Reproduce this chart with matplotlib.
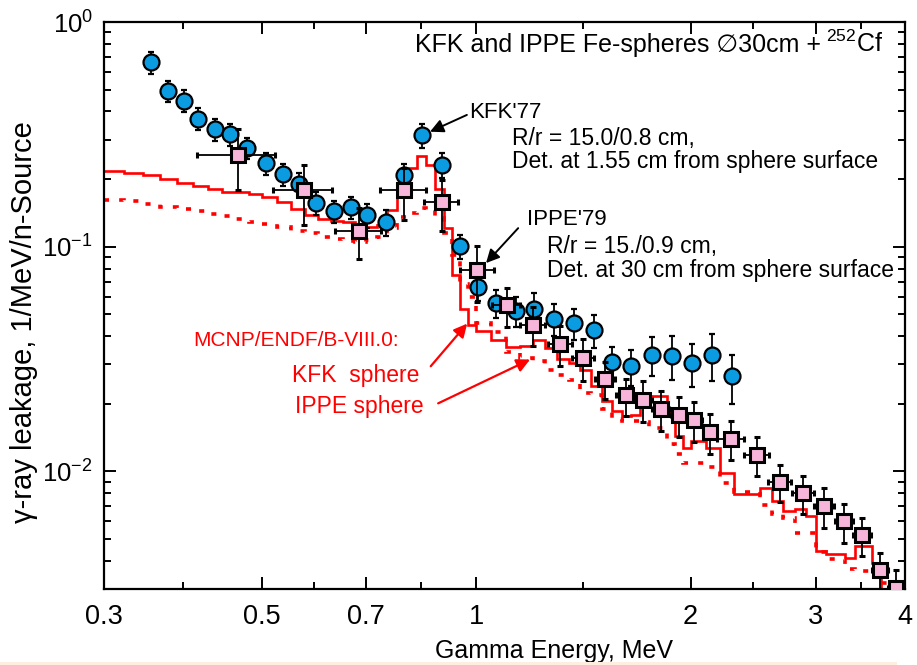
import matplotlib
matplotlib.use("Agg")
import numpy as np
import matplotlib.pyplot as plt
from matplotlib.patches import Rectangle
from matplotlib.ticker import FixedLocator, FixedFormatter, LogLocator, NullFormatter

# KFK'77 measurement (blue circles)
kfk_energy = [0.349, 0.369, 0.388, 0.406, 0.429, 0.451, 0.476, 0.506, 0.535, 0.563,
              0.596, 0.631, 0.666, 0.703, 0.747, 0.791, 0.839, 0.894, 0.949, 1.004,
              1.066, 1.136, 1.204, 1.286, 1.371, 1.462, 1.553, 1.651, 1.767, 1.886,
              2.007, 2.145, 2.289]
kfk_flux = [0.664, 0.494, 0.446, 0.372, 0.334, 0.316, 0.275, 0.235, 0.210, 0.191,
            0.157, 0.1435, 0.150, 0.138, 0.129, 0.209, 0.313, 0.232, 0.1003, 0.0662,
            0.0562, 0.0519, 0.0530, 0.0479, 0.0458, 0.0425, 0.0306, 0.0294, 0.0331, 0.0328,
            0.0304, 0.0331, 0.0265]
kfk_err = [0.074, 0.055, 0.050, 0.042, 0.037, 0.035, 0.030, 0.026, 0.024, 0.021,
           0.018, 0.016, 0.017, 0.017, 0.017, 0.025, 0.038, 0.030, 0.012, 0.0086,
           0.0079, 0.0078, 0.0090, 0.0077, 0.0073, 0.0072, 0.0052, 0.0053, 0.0066, 0.0072,
           0.0067, 0.0079, 0.0066]

# IPPE'79 measurement (pink squares)
ippe_energy = [0.463, 0.573, 0.684, 0.791, 0.894, 1.003, 1.103, 1.200, 1.311, 1.413,
               1.516, 1.623, 1.716, 1.817, 1.926, 2.024, 2.13, 2.279, 2.476, 2.67,
               2.879, 3.078, 3.285, 3.484, 3.69, 3.89]
ippe_flux = [0.256, 0.178, 0.118, 0.178, 0.158, 0.079, 0.0548, 0.045, 0.0369, 0.0320,
             0.0258, 0.0218, 0.0209, 0.0190, 0.0179, 0.0169, 0.0150, 0.0140, 0.0119, 0.0090,
             0.0080, 0.0070, 0.0060, 0.0052, 0.00364, 0.00304]
ippe_xerr = [0.058, 0.055, 0.05, 0.058, 0.05, 0.055, 0.05, 0.05, 0.05, 0.05,
             0.05, 0.05, 0.05, 0.05, 0.05, 0.05, 0.05, 0.1, 0.1, 0.1,
             0.1, 0.1, 0.1, 0.1, 0.1, 0.1]
ippe_yerr = [0.077, 0.053, 0.030, 0.046, 0.040, 0.022, 0.011, 0.009, 0.0074, 0.0067,
             0.0048, 0.0041, 0.0043, 0.0039, 0.0036, 0.0034, 0.0030, 0.0028, 0.0024, 0.0017,
             0.0015, 0.0014, 0.0012, 0.0010, 0.0007, 0.0006]

# MCNP/ENDF/B-VIII.0 histograms
mcnp_edges = [0.30, 0.32, 0.34, 0.36, 0.38, 0.40, 0.42, 0.44, 0.46, 0.48,
              0.50, 0.525, 0.55, 0.575, 0.60, 0.625, 0.65, 0.675, 0.70, 0.725,
              0.75, 0.775, 0.80, 0.825, 0.85, 0.875, 0.90, 0.925, 0.95, 0.975,
              1.00, 1.05, 1.10, 1.15, 1.20, 1.25, 1.30, 1.35, 1.40, 1.45,
              1.50, 1.55, 1.60, 1.65, 1.70, 1.75, 1.85, 1.90, 1.95, 2.00,
              2.10, 2.20, 2.30, 2.50, 2.60, 2.70, 2.80, 2.90, 3.00, 3.10,
              3.30, 3.40, 3.60, 3.70, 4.00]
mcnp_kfk = [0.218, 0.213, 0.208, 0.200, 0.193, 0.187, 0.181, 0.176, 0.175,
            0.171, 0.166, 0.158, 0.147, 0.139, 0.133, 0.130, 0.129, 0.1265, 0.122,
            0.125, 0.146, 0.185, 0.224, 0.254, 0.231, 0.180, 0.121, 0.075, 0.053,
            0.045, 0.042, 0.0386, 0.0358, 0.0362, 0.0386, 0.0355, 0.0315, 0.0304, 0.0284,
            0.0239, 0.0205, 0.0185, 0.0176, 0.0179, 0.0199, 0.0216, 0.0185, 0.01435, 0.01274,
            0.01364, 0.01274, 0.00987, 0.0079, 0.00846, 0.00738, 0.00666, 0.00678, 0.00633, 0.00442,
            0.00428, 0.00413, 0.00466, 0.00393, 0.002]
mcnp_ippe = [0.162, 0.159, 0.155, 0.151, 0.147, 0.144, 0.140, 0.137, 0.133,
             0.129, 0.126, 0.122, 0.118, 0.115, 0.111, 0.108, 0.106, 0.1055, 0.1075,
             0.111, 0.121, 0.1355, 0.142, 0.1486, 0.145, 0.1345, 0.115, 0.092, 0.068,
             0.060, 0.046, 0.0416, 0.0340, 0.0320, 0.0310, 0.0283, 0.0270, 0.0256, 0.0224,
             0.0220, 0.0189, 0.0171, 0.0168, 0.0168, 0.0166, 0.0156, 0.0132, 0.0120, 0.0109,
             0.0109, 0.0105, 0.0089, 0.0081, 0.0071, 0.0065, 0.0062, 0.0053, 0.0053, 0.0044,
             0.0041, 0.0037, 0.0036, 0.0034, 0.0032]

x_ticks = [0.3, 0.5, 0.7, 1, 2, 3, 4]
x_tick_labels = ["0.3", "0.5", "0.7", "1", "2", "3", "4"]

plt.rcParams['font.family'] = ['Liberation Sans', 'DejaVu Sans']
plt.rcParams['mathtext.fontset'] = 'custom'
plt.rcParams['mathtext.rm'] = 'Liberation Sans'
plt.rcParams['mathtext.it'] = 'Liberation Sans:italic'
plt.rcParams['mathtext.bf'] = 'Liberation Sans:bold'

fig = plt.figure(figsize=(9.17, 6.65), dpi=100)
ax = fig.add_axes([0.1134, 0.1143, 0.8735, 0.8526])

# simulated spectra
ax.stairs(mcnp_kfk, mcnp_edges, baseline=None, color='#ff0000', lw=1.9, zorder=2)
ax.stairs(mcnp_ippe, mcnp_edges, baseline=None, color='#ff0000', lw=2.6,
          linestyle=(0, (1.4, 2.8)), zorder=2)

# measurements
ax.errorbar(kfk_energy, kfk_flux, yerr=kfk_err, fmt='o', ms=11.5, mfc='#0a9be0',
            mec='k', mew=1.6, ecolor='k', elinewidth=1.3, capsize=2.2, capthick=1.3,
            zorder=4)
ax.errorbar(ippe_energy, ippe_flux, xerr=ippe_xerr, yerr=ippe_yerr, fmt='s', ms=10.5,
            mfc='#f7b5d9', mec='k', mew=2.2, ecolor='k', elinewidth=1.3, capsize=2.2,
            capthick=1.3, zorder=5)

ax.set_xscale('log')
ax.set_yscale('log')
ax.set_xlim(0.3, 4)
ax.set_ylim(0.003, 1)

minor_ticks = [np.sqrt(a * b) for a, b in zip(x_ticks[:-1], x_ticks[1:])]
ax.xaxis.set_major_locator(FixedLocator(x_ticks))
ax.xaxis.set_major_formatter(FixedFormatter(x_tick_labels))
ax.xaxis.set_minor_locator(FixedLocator(minor_ticks))
ax.xaxis.set_minor_formatter(NullFormatter())
ax.yaxis.set_major_locator(LogLocator(base=10))
ax.yaxis.set_minor_locator(LogLocator(base=10, subs=np.arange(2, 10)))
ax.yaxis.set_minor_formatter(NullFormatter())

ax.tick_params(which='both', direction='in', top=True, right=True, width=1.4)
ax.tick_params(which='major', length=8.5)
ax.tick_params(which='minor', length=5)
ax.tick_params(axis='x', which='major', pad=11, labelsize=19.5)
ax.tick_params(axis='y', which='major', pad=8, labelsize=18.5)
for sp in ax.spines.values():
    sp.set_linewidth(1.6)

ax.set_xlabel("Gamma Energy, MeV", fontsize=18)
ax.xaxis.set_label_coords(0.562, -0.109)
ax.xaxis.label.set_va('center')
ax.set_ylabel("\u03b3-ray leakage, 1/MeV/n-Source", fontsize=21)
ax.yaxis.set_label_coords(-0.1, 0.471)
ax.yaxis.label.set_va('center')

# annotations
ax.text(0.895, 0.947, "KFK and IPPE Fe-spheres \u220530cm +", fontsize=18,
        ha='right', va='baseline', transform=ax.transAxes)
ax.text(0.9725, 0.947, "$^{252}$Cf", fontsize=18, ha='right', va='baseline',
        transform=ax.transAxes)
ax.text(0.4557, 0.8307, "KFK'77", fontsize=16, va='baseline', transform=ax.transAxes)
ax.text(0.5094, 0.7831, "R/r = 15.0/0.8 cm,", fontsize=16.5, va='baseline',
        transform=ax.transAxes)
ax.text(0.5094, 0.7425, "Det. at 1.55 cm from sphere surface", fontsize=16.5,
        va='baseline', transform=ax.transAxes)
ax.text(0.5281, 0.642, "IPPE'79", fontsize=16, va='baseline', transform=ax.transAxes)
ax.text(0.5531, 0.5926, "R/r = 15./0.9 cm,", fontsize=16.5, va='baseline',
        transform=ax.transAxes)
ax.text(0.5531, 0.5503, "Det. at 30 cm from sphere surface", fontsize=16.5,
        va='baseline', transform=ax.transAxes)

ax.text(0.1111, 0.4286, "MCNP/ENDF/B-VIII.0:", fontsize=15, color='#ff0000',
        va='baseline', transform=ax.transAxes)
ax.text(0.2347, 0.3651, "KFK  sphere", fontsize=16.5, color='#ff0000',
        va='baseline', transform=ax.transAxes)
ax.text(0.2385, 0.3104, "IPPE sphere", fontsize=16.5, color='#ff0000',
        va='baseline', transform=ax.transAxes)

black_arrow = dict(arrowstyle='-|>', color='k', lw=1.4, mutation_scale=20,
                   shrinkA=0, shrinkB=0)
red_arrow = dict(arrowstyle='-|>', color='#ff0000', lw=1.6, mutation_scale=20,
                 shrinkA=0, shrinkB=0)
ax.annotate('', xy=(0.861, 0.325), xytext=(0.970, 0.386), arrowprops=black_arrow)
ax.annotate('', xy=(1.032, 0.0846), xytext=(1.145, 0.121), arrowprops=black_arrow)
ax.annotate('', xy=(0.971, 0.0455), xytext=(0.863, 0.0294), arrowprops=red_arrow)
ax.annotate('', xy=(1.19, 0.0315), xytext=(0.884, 0.0201), arrowprops=red_arrow)

# faint strip at the bottom edge of the page
fig.patches.append(Rectangle((0, 0), 0.978, 0.0045, transform=fig.transFigure,
                             facecolor='#fdeee0', edgecolor='none'))

fig.savefig('out.png', dpi=100)
